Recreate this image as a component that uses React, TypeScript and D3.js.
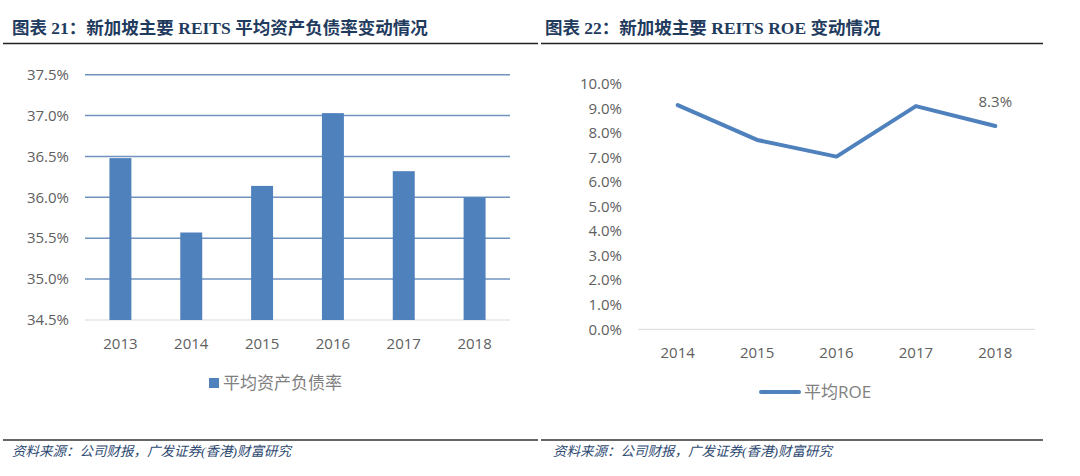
import React from "react";
import * as d3 from "d3";

const leftTitle = "图表 21：新加坡主要 REITS 平均资产负债率变动情况";
const rightTitle = "图表 22：新加坡主要 REITS ROE 变动情况";
const sourceText = "资料来源：公司财报，广发证券(香港)财富研究";

const debtYears = ["2013", "2014", "2015", "2016", "2017", "2018"];
const debtRatio = [36.48, 35.57, 36.14, 37.03, 36.32, 36.0];
const debtTicks = [34.5, 35.0, 35.5, 36.0, 36.5, 37.0, 37.5];
const debtLegend = "平均资产负债率";

const roeYears = ["2014", "2015", "2016", "2017", "2018"];
const roeValues = [9.14, 7.72, 7.04, 9.1, 8.29];
const roeTicks = [0, 1, 2, 3, 4, 5, 6, 7, 8, 9, 10];
const roeLegend = "平均ROE";
const roeLabel = "8.3%";

const BLUE = "#4F81BD";
const GRID = "#6F93BE";
const TICK = "#606060";
const TITLE = "#1F3B5E";
const FONT = "'Open Sans', 'Noto Sans CJK SC', sans-serif";
const TITLE_FONT = "'Liberation Serif', 'Noto Sans CJK SC', serif";

export default function App() {
  // left chart
  const lx = d3.scaleBand<string>().domain(debtYears).range([85, 510]).paddingInner(0.69).paddingOuter(0.345);
  const ly = d3.scaleLinear().domain([34.5, 37.5]).range([320, 74.7]);

  // right chart
  const rx = d3.scalePoint<string>().domain(roeYears).range([638, 1035]).padding(0.5);
  const ry = d3.scaleLinear().domain([0, 10]).range([329.3, 84]);
  const line = d3
    .line<number>()
    .x((_, i) => rx(roeYears[i]) as number)
    .y((d) => ry(d));

  const lastIdx = roeValues.length - 1;

  return (
    <div style={{ position: "absolute", left: 0, top: 0 }}>
      <svg width={1080} height={476} style={{ display: "block", background: "#fff" }}>
        <rect x={0} y={0} width={1080} height={476} fill="#fff" />
        {/* titles */}
        <text x={12} y={34} fontFamily={TITLE_FONT} fontWeight="bold" fontSize={17.5} fill={TITLE}>
          {leftTitle}
        </text>
        <text x={545} y={34} fontFamily={TITLE_FONT} fontWeight="bold" fontSize={17.5} fill={TITLE}>
          {rightTitle}
        </text>
        <line x1={3} x2={538} y1={43.5} y2={43.5} stroke="#222" strokeWidth={1.5} />
        <line x1={541} x2={1043} y1={43.5} y2={43.5} stroke="#222" strokeWidth={1.5} />

        {/* left chart gridlines */}
        {debtTicks.map((t) => (
          <line
            key={"g" + t}
            x1={85}
            x2={510}
            y1={ly(t)}
            y2={ly(t)}
            stroke={t === 34.5 ? "#D9D9D9" : GRID}
            strokeWidth={t === 34.5 ? 1 : 1.5}
          />
        ))}
        {debtTicks.map((t) => (
          <text
            key={"t" + t}
            x={69}
            y={ly(t)}
            dy="0.35em"
            textAnchor="end"
            fontFamily={FONT}
            fontSize={15}
            fill={TICK}
          >
            {t.toFixed(1) + "%"}
          </text>
        ))}
        {debtYears.map((y, i) => (
          <rect
            key={"b" + y}
            x={lx(y)}
            y={ly(debtRatio[i])}
            width={lx.bandwidth()}
            height={ly(34.5) - ly(debtRatio[i])}
            fill={BLUE}
          />
        ))}
        {debtYears.map((y) => (
          <text
            key={"x" + y}
            x={(lx(y) as number) + lx.bandwidth() / 2}
            y={344}
            dy="0.35em"
            textAnchor="middle"
            fontFamily={FONT}
            fontSize={15}
            fill={TICK}
          >
            {y}
          </text>
        ))}
        {/* left legend */}
        <rect x={209} y={378} width={10} height={10} fill={BLUE} />
        <text x={223} y={383} dy="0.35em" fontFamily={FONT} fontSize={17} fill="#7F7F7F">
          {debtLegend}
        </text>

        {/* right chart */}
        <line x1={638} x2={1035} y1={ry(0)} y2={ry(0)} stroke="#D9D9D9" strokeWidth={1} />
        {roeTicks.map((t) => (
          <text
            key={"rt" + t}
            x={622}
            y={ry(t)}
            dy="0.35em"
            textAnchor="end"
            fontFamily={FONT}
            fontSize={15}
            fill={TICK}
          >
            {t.toFixed(1) + "%"}
          </text>
        ))}
        {roeYears.map((y) => (
          <text
            key={"rx" + y}
            x={rx(y)}
            y={353}
            dy="0.35em"
            textAnchor="middle"
            fontFamily={FONT}
            fontSize={15}
            fill={TICK}
          >
            {y}
          </text>
        ))}
        <path
          d={line(roeValues) || ""}
          fill="none"
          stroke={BLUE}
          strokeWidth={4}
          strokeLinejoin="round"
          strokeLinecap="round"
        />
        <text
          x={rx(roeYears[lastIdx])}
          y={ry(roeValues[lastIdx]) - 24}
          dy="0.35em"
          textAnchor="middle"
          fontFamily={FONT}
          fontSize={15}
          fill={TICK}
        >
          {roeLabel}
        </text>
        {/* right legend */}
        <line x1={761} x2={799} y1={392} y2={392} stroke={BLUE} strokeWidth={4} strokeLinecap="round" />
        <text x={804} y={392} dy="0.35em" fontFamily={FONT} fontSize={17} fill="#7F7F7F">
          {roeLegend}
        </text>

        {/* footers */}
        <line x1={3} x2={538} y1={440} y2={440} stroke="#333" strokeWidth={1.5} />
        <line x1={541} x2={1043} y1={440} y2={440} stroke="#333" strokeWidth={1.5} />
        <text x={12} y={451} dy="0.35em" fontFamily={TITLE_FONT} fontStyle="italic" fontSize={13.5} fill="#2E4A72">
          {sourceText}
        </text>
        <text x={553} y={451} dy="0.35em" fontFamily={TITLE_FONT} fontStyle="italic" fontSize={13.5} fill="#2E4A72">
          {sourceText}
        </text>
      </svg>
    </div>
  );
}
